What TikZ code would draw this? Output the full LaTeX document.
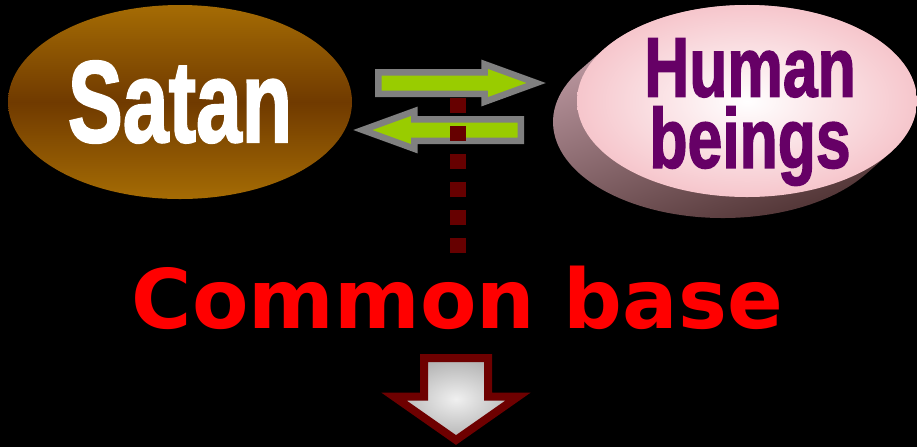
\documentclass[tikz,border=0pt]{standalone}
\usepackage{fontspec}
\usepackage{tikz}
\usetikzlibrary{shapes.geometric,shapes.arrows}
\newfontfamily\heavyfont{Liberation Sans}[BoldFeatures={FakeBold=2}]
\newfontfamily\basefont{DejaVu Sans}
\definecolor{satanlight}{RGB}{165,108,4}
\definecolor{satandark}{RGB}{112,58,0}
\definecolor{pinkedge}{RGB}{246,198,204}
\definecolor{sidelight}{RGB}{205,168,178}
\definecolor{sidedark}{RGB}{70,42,42}
\definecolor{humanpurple}{RGB}{102,0,102}
\definecolor{arrgray}{RGB}{128,128,128}
\definecolor{arrgreen}{RGB}{153,204,0}
\definecolor{dotred}{RGB}{102,0,0}
\definecolor{downred}{RGB}{110,0,0}

\begin{document}
\begin{tikzpicture}[
    blk/.style={single arrow, draw=arrgray, fill=arrgreen, line width=0.13cm,
      inner xsep=0pt, inner ysep=0.15cm, single arrow head extend=0.16cm,
      single arrow tip angle=40, minimum height=3.16cm, anchor=tail}]
    \fill[black] (0,0) rectangle (18.34,-8.94);
    \useasboundingbox (0,0) rectangle (18.34,-8.94);
    \node[shape=ellipse, inner sep=0pt, minimum width=6.88cm, minimum height=3.88cm,
      top color=satanlight, bottom color=satanlight, middle color=satandark,
      text=white, font=\heavyfont\bfseries\fontsize{66pt}{66pt}\selectfont]
      (S) at (3.6,-2.04) {\scalebox{0.71}[1]{Satan}};
    \shade[top color=sidelight, bottom color=sidedark, shading angle=20]
      (17.798,-3.06) arc[start angle=-32.8, end angle=147.2, x radius=3.4, y radius=1.92]
      -- ++(-0.48,-0.42) arc[start angle=147.2, end angle=327.2, x radius=3.4, y radius=1.92]
      -- cycle;
    \node[shape=ellipse, inner sep=0pt, minimum width=6.8cm, minimum height=3.84cm,
      inner color=white, outer color=pinkedge] (H) at (14.94,-2.02) {};
    \node[text=humanpurple, align=center, inner sep=0pt,
      font=\heavyfont\bfseries\fontsize{48pt}{40.5pt}\selectfont]
      (Ht) at (15.0,-2.24) {\scalebox{0.74}[1]{Human}\\\scalebox{0.74}[1]{beings}};
    \node[blk] (R) at (7.5,-1.66) {};
    \node[blk, shape border rotate=180] (L) at (10.48,-2.6) {};
    \coordinate (T) at (9.16,-1.96);
    \coordinate (B) at (9.16,-5.06);
    \draw[dotred, line width=0.32cm, dash pattern=on 0.3cm off 0.26cm] (T) -- (B);
    \node[anchor=base, text=red, font=\basefont\bfseries\fontsize{46.8pt}{50pt}\selectfont]
      (C) at (9.15,-6.56) {Common base};
    \node[single arrow, shape border rotate=270, draw=downred, line width=0.16cm,
      shading=radial, inner color=gray!12, outer color=gray!60,
      inner xsep=0.56cm, inner ysep=0pt, single arrow head extend=0.6cm,
      single arrow tip angle=110, minimum height=1.64cm, anchor=tail]
      (D) at (9.12,-7.08) {};
\end{tikzpicture}
\end{document}
